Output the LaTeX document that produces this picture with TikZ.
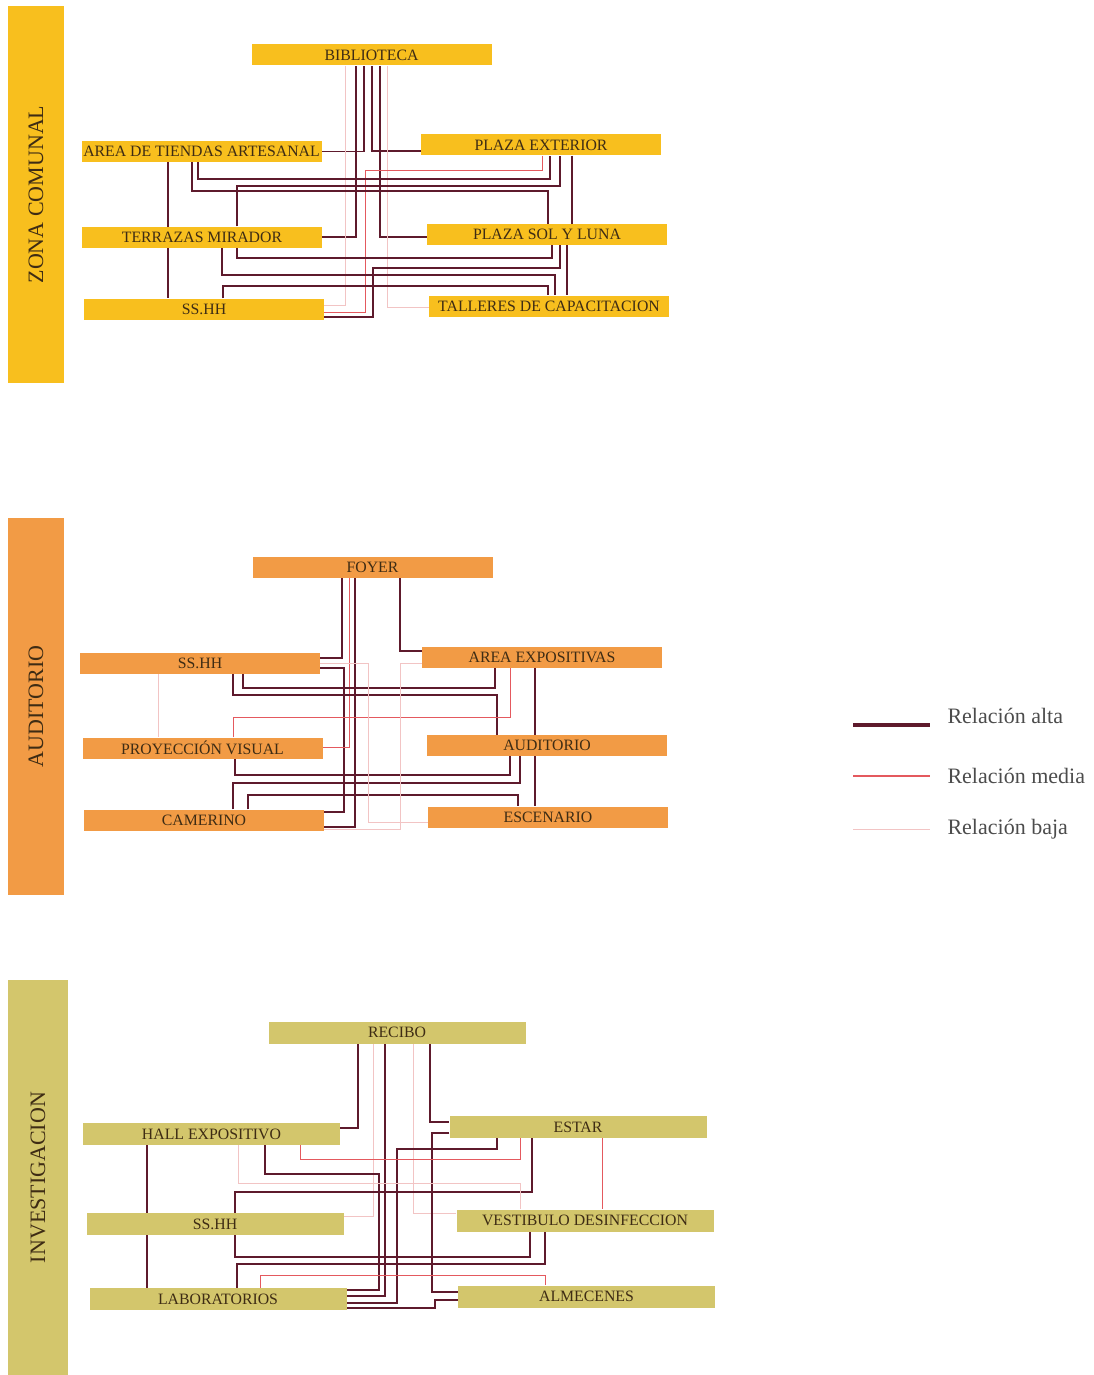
\documentclass[tikz,border=0pt]{standalone}
\usepackage{fontspec}
\setmainfont{Liberation Serif}
\definecolor{zcomunal}{HTML}{F8BF1E}
\definecolor{zauditorio}{HTML}{F29B45}
\definecolor{zinvest}{HTML}{D3C66C}
\definecolor{altac}{HTML}{5E1A2C}
\definecolor{mediac}{HTML}{E4595E}
\definecolor{bajac}{HTML}{F2C4C4}
\definecolor{textoc}{HTML}{3E2C14}
\pgfdeclarelayer{lineas}
\pgfsetlayers{lineas,main}

\begin{document}
\begin{tikzpicture}[x=1pt, y=-1pt,
    caja/.style={minimum width=240pt, minimum height=21pt, inner sep=0pt, text=textoc,
                 font=\fontsize{15.8}{16}\selectfont},
    cajaancha/.style={caja, minimum width=257pt, minimum height=22pt},
    barra/.style={rotate=90, minimum width=377pt, minimum height=56pt, inner sep=0pt,
                  text=textoc, font=\fontsize{22}{22}\selectfont},
    alta/.style={draw=altac, line width=1.6pt},
    media/.style={draw=mediac, line width=1pt},
    baja/.style={draw=bajac, line width=0.8pt},
    leyenda/.style={anchor=west, text=black!70, font=\fontsize{22}{22}\selectfont}]
  \useasboundingbox (0,0) rectangle (1094,1375);

  % zona comunal
  \node[barra, fill=zcomunal] (barra1) at (36,194.5) {ZONA COMUNAL};
  \node[caja, fill=zcomunal] (bib) at (371.5,55) {BIBLIOTECA};
  \node[caja, fill=zcomunal] (tiendas) at (201.5,151.5) {AREA DE TIENDAS ARTESANAL};
  \node[caja, fill=zcomunal] (plazaext) at (541,145) {PLAZA EXTERIOR};
  \node[caja, fill=zcomunal] (terrazas) at (202,237) {TERRAZAS MIRADOR};
  \node[caja, fill=zcomunal] (plazasol) at (547,234.5) {PLAZA SOL Y LUNA};
  \node[caja, fill=zcomunal] (sshh1) at (204,309) {SS.HH};
  \node[caja, fill=zcomunal] (talleres) at (549,306) {TALLERES DE CAPACITACION};

  % auditorio
  \node[barra, fill=zauditorio] (barra2) at (36,706.5) {AUDITORIO};
  \node[caja, fill=zauditorio] (foyer) at (372.5,567) {FOYER};
  \node[caja, fill=zauditorio] (sshh2) at (200,663.5) {SS.HH};
  \node[caja, fill=zauditorio] (areaexp) at (542,657) {AREA EXPOSITIVAS};
  \node[caja, fill=zauditorio] (proyeccion) at (202.5,748) {PROYECCIÓN VISUAL};
  \node[caja, fill=zauditorio] (auditorio) at (547,745.5) {AUDITORIO};
  \node[caja, fill=zauditorio] (camerino) at (204,820) {CAMERINO};
  \node[caja, fill=zauditorio] (escenario) at (548,817) {ESCENARIO};

  % investigacion
  \node[barra, fill=zinvest, minimum width=395pt, minimum height=60pt] (barra3) at (38,1177.5) {INVESTIGACION};
  \node[cajaancha, fill=zinvest] (recibo) at (397,1032.5) {RECIBO};
  \node[cajaancha, fill=zinvest] (hall) at (211.5,1134) {HALL EXPOSITIVO};
  \node[cajaancha, fill=zinvest] (estar) at (578,1127) {ESTAR};
  \node[cajaancha, fill=zinvest] (sshh3) at (215,1224) {SS.HH};
  \node[cajaancha, fill=zinvest] (vestibulo) at (585,1220.5) {VESTIBULO DESINFECCION};
  \node[cajaancha, fill=zinvest] (laboratorios) at (218,1299) {LABORATORIOS};
  \node[cajaancha, fill=zinvest] (almacenes) at (586.5,1296.5) {ALMECENES};

  % leyenda
  \node[leyenda] (leyalta) at (944,716) {Relación alta};
  \node[leyenda] (leymedia) at (944,776) {Relación media};
  \node[leyenda] (leybaja) at (944,829) {Relación baja};
  \draw[alta, line width=3.5pt] (853,725) -- (930,725);
  \draw[media, line width=2pt] (853,776) -- (930,776);
  \draw[baja] (853,829) -- (930,829);

  \begin{pgfonlayer}{lineas}
    % zona comunal
    \draw[alta] (tiendas.east) -| (bib.south -| 364,0);
    \draw[alta] (terrazas.east) -| (bib.south -| 356,0);
    \draw[alta] (plazaext.west |- 0,151) -| (bib.south -| 372,0);
    \draw[alta] (plazasol.west |- 0,237) -| (bib.south -| 380,0);
    \draw[baja] (bib.south -| 387,0) |- (talleres.west |- 0,307);
    \draw[baja] (bib.south -| 345,0) |- (sshh1.east |- 0,305);
    \draw[media] (plazaext.south -| 542,0) |- (365,171) |- (sshh1.east |- 0,312);
    \draw[alta] (tiendas.south -| 198,0) |- (550,179) -- (plazaext.south -| 550,0);
    \draw[alta] (tiendas.south -| 192,0) |- (548,191) -- (plazasol.north -| 548,0);
    \draw[alta] (terrazas.north -| 237,0) |- (560,186) -- (plazaext.south -| 560,0);
    \draw[alta] (terrazas.south -| 237,0) |- (552,258) -- (plazasol.south -| 552,0);
    \draw[alta] (terrazas.south -| 222,0) |- (555,275) -- (talleres.north -| 555,0);
    \draw[alta] (sshh1.east |- 0,317) -| (373,268) -| (plazasol.south -| 560,0);
    \draw[alta] (sshh1.north -| 223,0) |- (548,286) -- (talleres.north -| 548,0);
    \draw[alta] (tiendas.south -| 168,0) -- (sshh1.north -| 168,0);
    \draw[alta] (plazaext.south -| 572,0) -- (plazasol.north -| 572,0);
    \draw[alta] (plazasol.south -| 567,0) -- (talleres.north -| 567,0);

    % auditorio
    \draw[alta] (sshh2.east |- 0,658) -| (foyer.south -| 342,0);
    \draw[alta] (foyer.south -| 400,0) |- (areaexp.west |- 0,651);
    \draw[alta] (foyer.south -| 355,0) |- (camerino.east |- 0,827);
    \draw[alta] (sshh2.east |- 0,668) -| (344,812) -- (camerino.east |- 0,812);
    \draw[media] (foyer.south -| 349,0) |- (proyeccion.east |- 0,747);
    \draw[alta] (sshh2.south -| 243,0) |- (495,688) -- (areaexp.south -| 495,0);
    \draw[alta] (sshh2.south -| 233,0) |- (497,695) -- (auditorio.north -| 497,0);
    \draw[media] (proyeccion.north -| 233,0) |- (510,717) -- (areaexp.south -| 510,0);
    \draw[alta] (proyeccion.south -| 235,0) |- (510,775) -- (auditorio.south -| 510,0);
    \draw[alta] (camerino.north -| 233,0) |- (520,783) -- (auditorio.south -| 520,0);
    \draw[alta] (camerino.north -| 248,0) |- (518,795) -- (escenario.north -| 518,0);
    \draw[alta] (areaexp.south -| 535,0) -- (escenario.north -| 535,0);
    \draw[baja] (sshh2.east |- 0,663) -| (368,822) -- (escenario.west |- 0,822);
    \draw[baja] (areaexp.west |- 0,663) -| (400,829) -- (camerino.east |- 0,829);
    \draw[baja] (sshh2.south -| 158,0) -- (proyeccion.north -| 158,0);

    % investigacion
    \draw[alta] (hall.east |- 0,1128) -| (recibo.south -| 358,0);
    \draw[baja] (recibo.south -| 373,0) |- (sshh3.east |- 0,1216);
    \draw[alta] (recibo.south -| 430,0) |- (estar.west |- 0,1122);
    \draw[alta] (recibo.south -| 385,0) |- (laboratorios.east |- 0,1296);
    \draw[baja] (recibo.south -| 413,0) |- (vestibulo.west |- 0,1213);
    \draw[alta] (estar.west |- 0,1133) -| (432,1292) -- (almacenes.west |- 0,1292);
    \draw[alta] (estar.south -| 497,0) |- (397,1149) |- (laboratorios.east |- 0,1303);
    \draw[media] (hall.south -| 300,0) |- (520,1159) -- (estar.south -| 520,0);
    \draw[alta] (hall.south -| 265,0) |- (379,1174) |- (laboratorios.east |- 0,1290);
    \draw[alta] (sshh3.north -| 235,0) |- (532,1192) -- (estar.south -| 532,0);
    \draw[baja] (hall.south -| 238,0) |- (520,1183) -- (vestibulo.north -| 520,0);
    \draw[alta] (sshh3.south -| 235,0) |- (530,1257) -- (vestibulo.south -| 530,0);
    \draw[alta] (laboratorios.north -| 237,0) |- (545,1264) -- (vestibulo.south -| 545,0);
    \draw[media] (laboratorios.north -| 260,0) |- (545,1275) -- (almacenes.north -| 545,0);
    \draw[media] (estar.south -| 602,0) -- (vestibulo.north -| 602,0);
    \draw[alta] (hall.south -| 147,0) -- (laboratorios.north -| 147,0);
    \draw[alta] (laboratorios.east |- 0,1308) -| (435,1300) -- (almacenes.west |- 0,1300);
  \end{pgfonlayer}
\end{tikzpicture}
\end{document}
